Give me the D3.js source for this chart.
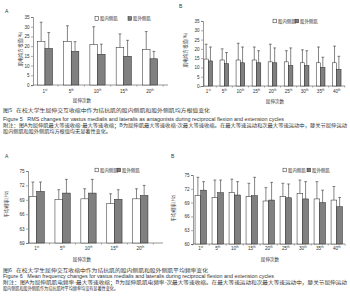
<!DOCTYPE html>
<html>
<head>
<meta charset="utf-8">
<script src="https://cdn.jsdelivr.net/npm/d3@7"></script>
<style>
  body { margin: 0; background: #fff; }
  text { font-family: "Liberation Sans", "Noto Sans CJK SC", sans-serif; fill: #333; }
  .cn { font-family: "Noto Sans CJK SC", sans-serif; }
  .cap { white-space: pre; }
</style>
</head>
<body>
<svg width="350" height="300"></svg>
<script>
// categories (cycle number)
const cats5 = ['1st', '5th', '10th', '15th', '20th']
const cats9 = ['1st', '5th', '10th', '15th', '20th', '25th', '30th', '35th', '40th']

// figure 5: RMS (%)
const rmsMedA = [22.5, 22.5, 20.8, 19.3, 18.3]
const rmsMedA_sd = [9.8, 8.0, 9.2, 7.0, 9.2]
const rmsLatA = [18.8, 17.3, 15.8, 14.8, 13.5]
const rmsLatA_sd = [8.2, 5.0, 5.2, 8.2, 3.8]

const rmsMedB = [14.5, 14, 14, 14, 13, 13, 12.5, 12.5, 12.5]
const rmsMedB_sd = [8, 6, 9, 7, 9.5, 6, 7, 8.5, 9]
const rmsLatB = [13.5, 12, 12.5, 12.5, 12.5, 11, 11, 10, 9]
const rmsLatB_sd = [7.5, 6, 8.5, 6.5, 8, 9.5, 8, 5.5, 7]

// figure 6: mean frequency (Hz)
const mfMedA = [69.7, 69.1, 69.2, 68.2, 69.2]
const mfMedA_sd = [3.0, 2.0, 2.1, 2.05, 2.1]
const mfLatA = [70.75, 70.4, 70.4, 69.1, 69.9]
const mfLatA_sd = [1.95, 2.85, 2.85, 2.0, 2.1]

const mfMedB = [70.5, 70.1, 71.2, 70.3, 69.35, 70.3, 71.0, 69.8, 69.55]
const mfMedB_sd = [4.0, 3.8, 2.9, 2.9, 2.9, 2.9, 2.9, 3.75, 2.95]
const mfLatB = [71.7, 71.15, 70.65, 70.5, 69.55, 70.05, 69.8, 69.0, 68.1]
const mfLatB_sd = [1.85, 2.75, 2.9, 4.0, 3.85, 3.0, 3.75, 2.7, 2.0]

const rmsTicks = [0, 5, 10, 15, 20, 25, 30, 35]
const mfTicks = [60, 63, 66, 69, 72, 75]
const seriesNames = ['股内侧肌', '股外侧肌']

const svg = d3.select('svg')
svg.append('rect').attr('width', 350).attr('height', 300).attr('fill', '#fff')

const fills = ['#fff', '#808080']

function panel(c) {
  const g = svg.append('g')
  const x = d3.scaleBand().domain(c.cats).range(c.xr).paddingInner(c.pi).paddingOuter(c.po)
  const sub = d3.scaleBand().domain([0, 1]).range([0, x.bandwidth()])
  const y = d3.scaleLinear().domain([c.ticks[0], c.ticks[c.ticks.length - 1]]).range(c.yr)

  // y axis
  const ya = g.append('g').attr('transform', `translate(${c.xr[0]},0)`)
    .call(d3.axisLeft(y).tickValues(c.ticks).tickSize(2).tickPadding(1.5))
  ya.select('.domain').attr('stroke', '#555').attr('stroke-width', 0.6)
  ya.selectAll('.tick line').attr('stroke', '#555').attr('stroke-width', 0.5)
  ya.selectAll('.tick text').attr('font-size', 4.6).attr('fill', '#333')
    .style('font-family', 'Liberation Sans')

  // x axis
  const base = y(c.ticks[0])
  g.append('line').attr('x1', c.xr[0]).attr('x2', c.xEnd).attr('y1', base).attr('y2', base)
    .attr('stroke', '#555').attr('stroke-width', 0.6)
  const step = x.step()
  const bounds = c.cats.map(d => x(d) - step * c.pi / 2).concat([x(c.cats[c.cats.length - 1]) + x.bandwidth() + step * c.pi / 2])
  g.selectAll('.xt').data(bounds).join('line')
    .attr('x1', d => d).attr('x2', d => d).attr('y1', base).attr('y2', base + 1.5)
    .attr('stroke', '#555').attr('stroke-width', 0.5)

  const lab = g.selectAll('.xl').data(c.cats).join('text')
    .attr('x', d => x(d) + x.bandwidth() / 2).attr('y', c.xly)
    .attr('text-anchor', 'middle').attr('font-size', 4.6)
  lab.append('tspan').text(d => d.replace(/\D+/, ''))
  lab.append('tspan').text(d => d.replace(/\d+/, '')).attr('font-size', 3).attr('dy', -1.6)

  // bars
  c.series.forEach((s, k) => {
    g.selectAll('.b' + k).data(s.v).join('rect')
      .attr('x', (d, i) => x(c.cats[i]) + sub(k))
      .attr('width', sub.bandwidth())
      .attr('y', d => y(d))
      .attr('height', d => base - y(d))
      .attr('fill', fills[k]).attr('stroke', '#222').attr('stroke-width', 0.5)
    const cx = i => x(c.cats[i]) + sub(k) + sub.bandwidth() / 2
    g.selectAll('.e' + k).data(s.v).join('line')
      .attr('x1', (d, i) => cx(i)).attr('x2', (d, i) => cx(i))
      .attr('y1', d => y(d)).attr('y2', (d, i) => y(d + s.sd[i]))
      .attr('stroke', '#333').attr('stroke-width', 0.6)
    g.selectAll('.c' + k).data(s.v).join('line')
      .attr('x1', (d, i) => cx(i) - 1.4).attr('x2', (d, i) => cx(i) + 1.4)
      .attr('y1', (d, i) => y(d + s.sd[i])).attr('y2', (d, i) => y(d + s.sd[i]))
      .attr('stroke', '#333').attr('stroke-width', 0.6)
  })

  // legend
  seriesNames.forEach((n, k) => {
    const lx = c.leg[k]
    g.append('rect').attr('x', lx).attr('y', c.legY - 1.8).attr('width', 3.6).attr('height', 3.6)
      .attr('fill', fills[k]).attr('stroke', '#222').attr('stroke-width', 0.5)
    g.append('text').attr('class', 'cn').attr('x', lx + 5).attr('y', c.legY + 1.6)
      .attr('font-size', 4.4).text(n)
  })

  // titles
  g.append('text').attr('class', 'cn').attr('font-size', 4.6)
    .attr('transform', `translate(${c.yt[0]},${c.yt[1]}) rotate(-90)`)
    .attr('text-anchor', 'middle').text(c.yTitle)
  g.append('text').attr('class', 'cn').attr('font-size', 4.6)
    .attr('x', c.xt[0]).attr('y', c.xt[1]).attr('text-anchor', 'middle').text('屈伸次数')
  g.append('text').attr('x', c.tag[0]).attr('y', c.tag[1]).attr('font-size', 5).text(c.tagText)
}

panel({ cats: cats5, xr: [33, 162], xEnd: 168, pi: 0.42, po: 0.165, yr: [85, 17], ticks: rmsTicks,
  series: [{ v: rmsMedA, sd: rmsMedA_sd }, { v: rmsLatA, sd: rmsLatA_sd }],
  xly: 92.5, leg: [95, 128], legY: 18.5, yTitle: '肌电均方根值(%)', yt: [22, 49], xt: [82, 101.5],
  tag: [5, 13], tagText: 'A' })

panel({ cats: cats9, xr: [203, 342], xEnd: 345, pi: 0.46, po: 0.06, yr: [86, 21], ticks: rmsTicks,
  series: [{ v: rmsMedB, sd: rmsMedB_sd }, { v: rmsLatB, sd: rmsLatB_sd }],
  xly: 93, leg: [273, 295], legY: 21, yTitle: '肌电均方根值(%)', yt: [187, 50], xt: [275, 103],
  tag: [179, 8], tagText: 'B' })

panel({ cats: cats5, xr: [28, 149], xEnd: 163, pi: 0.41, po: 0.04, yr: [243, 171], ticks: mfTicks,
  series: [{ v: mfMedA, sd: mfMedA_sd }, { v: mfLatA, sd: mfLatA_sd }],
  xly: 250, leg: [95, 117], legY: 170, yTitle: '平均频率(Hz)', yt: [8, 204], xt: [82, 260.5],
  tag: [5, 158], tagText: 'A' })

panel({ cats: cats9, xr: [193, 344.5], xEnd: 345, pi: 0.33, po: 0.12, yr: [244, 175], ticks: mfTicks,
  series: [{ v: mfMedB, sd: mfMedB_sd }, { v: mfLatB, sd: mfLatB_sd }],
  xly: 250, leg: [283, 307], legY: 170, yTitle: '平均频率(Hz)', yt: [175, 208], xt: [270, 260.5],
  tag: [171, 158], tagText: 'B' })

// captions
const captions = [
  { t: '图5   在校大学生屈伸交互收缩中作为拮抗肌的股内侧肌和股外侧肌均方根值变化', y: 112, w: 207, cn: true },
  { t: 'Figure 5   RMS changes for vastus medialis and lateralis as antagonists during reciprocal flexion and extension cycles', y: 121, w: 281, cn: false },
  { t: '附注：图A为屈伸肌最大等速收缩-最大等速收缩；B为屈伸肌最大等速收缩-次最大等速收缩。在最大等速运动和次最大等速运动中，膝关节屈伸运动', y: 127, w: 344, cn: true },
  { t: '股内侧肌和股外侧肌均方根值均无显著性变化。', y: 132.6, w: 108, cn: true },
  { t: '图6   在校大学生屈伸交互收缩中作为拮抗肌的股内侧肌和股外侧肌平均频率变化', y: 272, w: 205, cn: true },
  { t: 'Figure 6   Mean frequency changes for vastus medialis and lateralis during reciprocal flexion and extension cycles', y: 278, w: 271, cn: false },
  { t: '附注：图A为屈伸肌肌电频率-最大等速收缩；B为屈伸肌肌电频率-次最大等速收缩。在最大等速运动和次最大等速运动中，膝关节屈伸运动', y: 284, w: 344, cn: true },
  { t: '股内侧肌和股外侧肌作为拮抗肌时平均频率均没有显著性变化。', y: 290, w: 115, cn: true }
]
svg.selectAll('.cap').data(captions).join('text')
  .attr('class', d => d.cn ? 'cap cn' : 'cap')
  .attr('x', 3).attr('y', d => d.y)
  .attr('font-size', d => d.cn ? 5 : 4.8)
  .attr('textLength', d => d.w).attr('lengthAdjust', 'spacingAndGlyphs')
  .attr('fill', '#333')
  .text(d => d.t)
</script>
</body>
</html>
